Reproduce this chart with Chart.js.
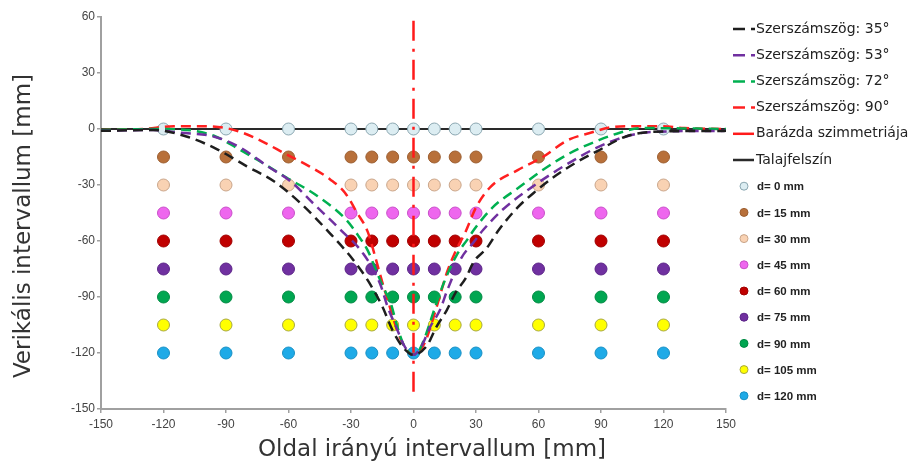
<!DOCTYPE html>
<html>
<head>
<meta charset="utf-8">
<script src="https://cdn.jsdelivr.net/npm/chart.js@4"></script>
<style>
  html, body { margin: 0; padding: 0; background: #ffffff; }
  #wrap { width: 913px; height: 466px; }
</style>
</head>
<body>
<div id="wrap"><canvas id="c" width="913" height="466"></canvas></div>
<script>
// Measurement grid: lateral positions (mm) and depths (mm)
const probeX = [-120, -90, -60, -30, -20, -10, 0, 10, 20, 30, 60, 90, 120];
const depths = [0, 15, 30, 45, 60, 75, 90, 105, 120];
const depthFill = ['#dcedf2', '#b8703a', '#f9d2b3', '#ee66ee', '#c00000', '#7030a0', '#00a651', '#ffff00', '#1eaae7'];
const depthEdge = ['#8aa6b0', '#9c5e30', '#c9a58a', '#c84fc8', '#a00000', '#5c2488', '#008a43', '#a8a840', '#1890c4'];

// Furrow profiles for each tool angle: [lateral mm, vertical mm]
const profile35 = [[-150,-1],[-125,-0.5],[-109,-4],[-94,-11],[-80,-20],[-67,-28],[-54,-40],[-40,-56],[-29,-70],[-22,-81],[-15,-95],[-10,-108],[-5,-117],[0,-121],
  [6.5,-116],[11,-106],[16,-97],[20,-88],[25,-80],[29,-71],[35,-64],[41,-54],[50,-42],[59,-33],[67,-26],[78,-18],[88,-12],[102,-4],[115,-1.5],[150,-1]];
const profile53 = [[-150,-1],[-125,-0.5],[-112,-2],[-96,-4],[-83,-10],[-70,-20],[-59,-28],[-48,-40],[-35,-54],[-24,-67],[-16,-83],[-12.5,-95],[-8,-107],[-4,-117],[0,-121],
  [4,-116],[8,-106],[12.7,-97],[16,-87],[23,-69],[28.6,-61],[33.5,-54],[43,-43],[57,-31],[72,-20],[88,-10],[102,-4],[115,-1.5],[150,-1]];
const profile72 = [[-150,-0.5],[-120,0],[-105,-1],[-95,-4],[-85,-10],[-75,-16.5],[-61,-26],[-46,-36],[-32,-49],[-26,-58],[-22,-65],[-17.5,-77],[-14,-86],[-11,-93],[-8,-105],[-5,-115],[-2,-120],[0,-121],
  [3,-118],[6,-110],[9,-100],[13,-87],[17,-76],[21,-67],[26,-59],[29,-54],[38,-42],[51,-31],[62,-22],[75,-13],[89,-6],[99,-2],[109,0.5],[150,0]];
const profile90 = [[-150,-0.5],[-130,0],[-115,1.5],[-100,1.5],[-90,0.5],[-82,-2],[-72,-7],[-62,-13],[-50,-20],[-40,-27],[-33,-34],[-27,-45],[-22,-55],[-18,-70],[-15,-82],[-12,-93],[-9,-104],[-6,-113],[-2,-120],[0,-121],
  [3,-119],[6,-113],[9,-103],[12,-92],[16,-77],[20,-66],[25,-55],[30,-42],[37,-31],[50,-22],[62,-15],[74,-6],[85,-2],[95,1],[105,1.5],[118,1.5],[130,0.5],[150,0]];
const symmetryLine = [[0, 58], [0, -145]];
const groundLine = [[-150, 0], [150, 0]];

const xTickStep = 30;
const yTickStep = 30;

const toXY = arr => arr.map(([x, y]) => ({ x, y }));

const curveDefs = [
  { label: 'Szerszámszög: 35°', data: profile35, color: '#1e1e1e' },
  { label: 'Szerszámszög: 53°', data: profile53, color: '#7030a0' },
  { label: 'Szerszámszög: 72°', data: profile72, color: '#00b050' },
  { label: 'Szerszámszög: 90°', data: profile90, color: '#ff2020' }
];

const datasets = [];
curveDefs.forEach(c => datasets.push({
  label: c.label, kind: 'dash', data: toXY(c.data), showLine: true,
  borderColor: c.color, backgroundColor: c.color, borderWidth: 2.5,
  borderDash: [10, 6], pointRadius: 0, cubicInterpolationMode: 'monotone', order: 0
}));
datasets.push({
  label: 'Barázda szimmetriája', kind: 'solid', data: toXY(symmetryLine), showLine: true,
  borderColor: '#ff1a1a', backgroundColor: '#ff1a1a', borderWidth: 2.5,
  borderDash: [20, 8, 3, 8], pointRadius: 0, order: 0
});
datasets.push({
  label: 'Talajfelszín', kind: 'solid', data: toXY(groundLine), showLine: true,
  borderColor: '#2a2a2a', backgroundColor: '#2a2a2a', borderWidth: 2,
  pointRadius: 0, order: 2
});
depths.forEach((d, i) => datasets.push({
  label: 'd= ' + d + ' mm', kind: 'point',
  data: probeX.map(x => ({ x, y: -d })),
  showLine: false, pointRadius: 6, pointHoverRadius: 6, borderWidth: 1,
  backgroundColor: depthFill[i], borderColor: depthEdge[i], order: 1
}));

// Axis titles and the side legend
const decorations = {
  id: 'decorations',
  afterDraw(chart) {
    const ctx = chart.ctx;
    ctx.save();
    ctx.fillStyle = '#333333';
    ctx.font = '23px "DejaVu Sans"';
    ctx.textAlign = 'center';
    ctx.textBaseline = 'middle';
    ctx.fillText('Oldal irányú intervallum [mm]', 432, 450);
    ctx.save();
    ctx.translate(24, 226);
    ctx.rotate(-Math.PI / 2);
    ctx.fillText('Verikális intervallum [mm]', 0, 0);
    ctx.restore();

    const x0 = 733, y0 = 29, step = 26.2;
    chart.data.datasets.forEach((ds, i) => {
      const y = y0 + i * step;
      ctx.textAlign = 'left';
      ctx.textBaseline = 'middle';
      if (ds.kind === 'point') {
        ctx.beginPath();
        ctx.arc(x0 + 11, y, 4, 0, Math.PI * 2);
        ctx.fillStyle = ds.backgroundColor;
        ctx.fill();
        ctx.lineWidth = 1;
        ctx.strokeStyle = ds.borderColor;
        ctx.stroke();
        ctx.fillStyle = '#222222';
        ctx.font = 'bold 11.5px "Liberation Sans"';
        ctx.fillText(ds.label, x0 + 24, y + 1);
      } else {
        ctx.beginPath();
        ctx.strokeStyle = ds.borderColor;
        ctx.lineWidth = 2.5;
        if (ds.kind === 'dash') {
          ctx.setLineDash([12, 6]);
          ctx.moveTo(x0, y); ctx.lineTo(x0 + 22, y);
        } else {
          ctx.setLineDash([]);
          ctx.moveTo(x0, y); ctx.lineTo(x0 + 21, y);
        }
        ctx.stroke();
        ctx.setLineDash([]);
        ctx.fillStyle = '#222222';
        ctx.font = '14px "DejaVu Sans"';
        ctx.fillText(ds.label, x0 + 23, y);
      }
    });
    ctx.restore();
  }
};

const tickFont = { family: '"Liberation Sans", Arial, sans-serif', size: 12 };

new Chart(document.getElementById('c'), {
  type: 'scatter',
  data: { datasets },
  options: {
    responsive: false,
    animation: false,
    devicePixelRatio: 1,
    layout: { padding: { left: 0, right: 187, top: 17, bottom: 0 } },
    plugins: { legend: { display: false }, tooltip: { enabled: false } },
    scales: {
      x: {
        type: 'linear', min: -150, max: 150,
        ticks: { stepSize: xTickStep, color: '#444444', font: tickFont, padding: 4 },
        grid: { display: true, drawOnChartArea: false, drawTicks: true, tickLength: 4, color: '#a0a0a0', lineWidth: 1.5 },
        border: { color: '#a0a0a0', width: 2 },
        afterFit: s => { s.height = 57; }
      },
      y: {
        type: 'linear', min: -150, max: 60,
        ticks: { stepSize: yTickStep, color: '#444444', font: tickFont, padding: 2 },
        grid: { display: true, drawOnChartArea: false, drawTicks: true, tickLength: 4, color: '#a0a0a0', lineWidth: 1.5 },
        border: { color: '#a0a0a0', width: 2 },
        afterFit: s => { s.width = 101; }
      }
    }
  },
  plugins: [decorations]
});
</script>
</body>
</html>
